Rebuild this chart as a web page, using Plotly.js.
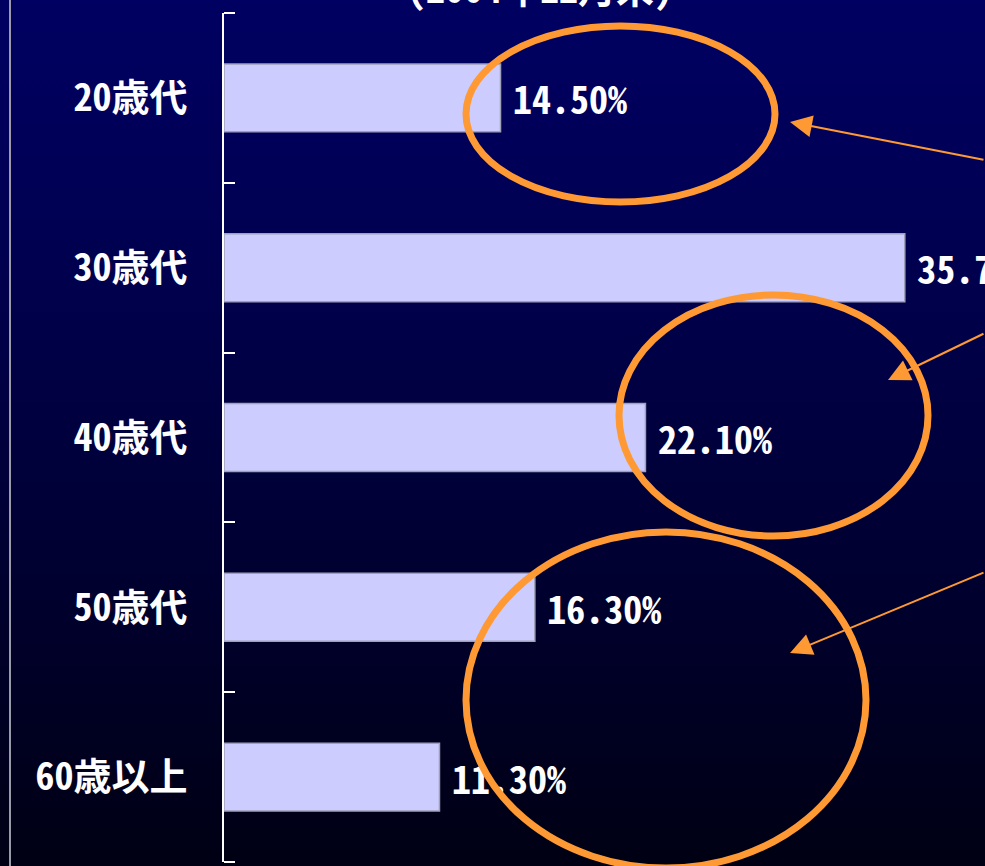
<!DOCTYPE html>
<html>
<head>
<meta charset="utf-8">
<script src="https://cdn.plot.ly/plotly-3.0.1.min.js"></script>
<style>
  html, body { margin: 0; padding: 0; background: #000014; }
  #chart { width: 985px; height: 866px;
    background: linear-gradient(to bottom, #000062 0%, #000054 25%, #00003a 55%, #000014 100%); }
</style>
</head>
<body>
<div id="chart"></div>
<script>
const categories = ["20歳代", "30歳代", "40歳代", "50歳代", "60歳以上"];
const shares = [14.5, 35.7, 22.1, 16.3, 11.3];
const titleText = "(2004年12月末)";

const FONT = "'Noto Sans Mono CJK JP', 'Noto Sans CJK JP', 'DejaVu Sans Mono', monospace";

// pixel helpers for decorations (plot area: x 224..985, y 13..862)
const L = 224, R = 985, T = 13, B = 862;
const px = x => (x - L) / (R - L);
const py = y => (B - y) / (B - T);

const trace = {
  type: "bar",
  orientation: "h",
  y: categories,
  x: shares,
  width: 0.4,
  marker: { color: "#ccccff", line: { color: "#a0a0b8", width: 1.5 } },
  text: shares.map(v => "\u2005" + v.toFixed(2) + "%"),
  textposition: "outside",
  constraintext: "none",
  cliponaxis: false,
  textfont: { family: FONT, size: 38, color: "#ffffff", weight: "bold" },
  hoverinfo: "none"
};

const orange = "#ff9933";
function ellipse(x0, y0, x1, y1) {
  return { type: "circle", xref: "paper", yref: "paper",
    x0: px(x0), x1: px(x1), y0: py(y1), y1: py(y0),
    line: { color: orange, width: 7 }, layer: "above" };
}
function arrow(tipX, tipY, tailX, tailY) {
  return { xref: "paper", yref: "paper", x: px(tipX), y: py(tipY),
    axref: "pixel", ayref: "pixel", ax: tailX - tipX, ay: tailY - tipY,
    showarrow: true, arrowhead: 2, arrowsize: 2.2, arrowwidth: 2,
    arrowcolor: orange, text: "" };
}
function endTick(y) {
  return { type: "line", xref: "paper", yref: "paper", x0: 0, x1: px(235), y0: y, y1: y,
    line: { color: "#ffffff", width: 2 } };
}

const layout = {
  width: 985, height: 866,
  margin: { l: L, r: 0, t: T, b: 866 - B, pad: 0 },
  paper_bgcolor: "rgba(0,0,0,0)",
  plot_bgcolor: "rgba(0,0,0,0)",
  showlegend: false,
  xaxis: { range: [0, (R - L) / 19.07], visible: false, showgrid: false, zeroline: false, fixedrange: true },
  yaxis: { type: "category", autorange: "reversed", automargin: false,
    showline: true, linecolor: "#ffffff", linewidth: 2,
    ticks: "inside", ticklen: 11, tickwidth: 2, tickcolor: "#ffffff",
    tickson: "boundaries", ticklabelstandoff: 27,
    showgrid: false, zeroline: false,
    tickfont: { family: FONT, size: 38, color: "#ffffff", weight: "bold" } },
  shapes: [
    { type: "line", xref: "paper", yref: "paper", x0: px(10), x1: px(10), y0: -0.05, y1: 1.05,
      line: { color: "#9a9aa8", width: 2 } },
    endTick(1), endTick(0),
    ellipse(466, 26, 775, 202),
    ellipse(619, 295, 928, 536),
    ellipse(466, 532, 866, 868)
  ],
  annotations: [
    { xref: "paper", yref: "paper", x: px(540), y: py(-14), xanchor: "center", yanchor: "middle",
      showarrow: false, text: titleText,
      font: { family: FONT, size: 38, color: "#ffffff", weight: "bold" } },
    arrow(790, 122, 985, 160),
    arrow(888, 380, 985, 333),
    arrow(790, 653, 985, 572)
  ]
};

Plotly.newPlot("chart", [trace], layout, { displayModeBar: false, staticPlot: true });
</script>
</body>
</html>
